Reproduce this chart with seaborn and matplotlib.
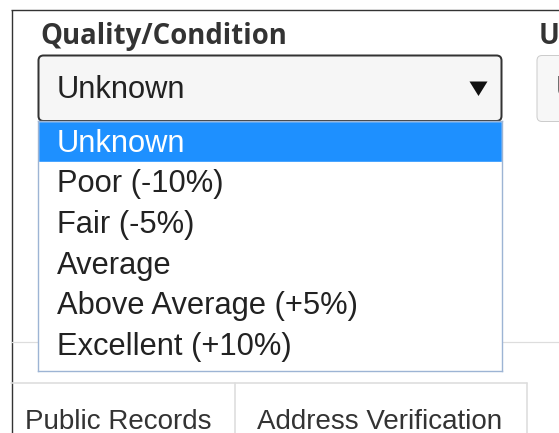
import matplotlib
matplotlib.use("Agg")
import matplotlib.pyplot as plt
from matplotlib.patches import FancyBboxPatch, Polygon
import seaborn as sns

# ---- content ----
FIELD_LABEL = "Quality/Condition"
NEXT_FIELD_LABEL = "Utility"
SELECTED = "Unknown"
NEXT_FIELD_VALUE = "Unknown"
OPTIONS = ["Unknown", "Poor (-10%)", "Fair (-5%)", "Average",
           "Above Average (+5%)", "Excellent (+10%)"]
TABS = ["Public Records", "Address Verification"]

sns.set_theme(style="white")
plt.rcParams["font.family"] = ["Liberation Sans", "DejaVu Sans"]

W, H = 559, 433
fig = plt.figure(figsize=(W / 100, H / 100), dpi=100)
fig.patch.set_facecolor("white")
ax = fig.add_axes([0, 0, 1, 1])
ax.set_xlim(0, W)
ax.set_ylim(H, 0)
ax.axis("off")

DARK = "#333333"
LIGHT = "#dddddd"
PX = 0.72  # points per pixel

# outer frame
ax.plot([11, W], [9.5, 9.5], color=DARK, lw=1.4 * PX, solid_capstyle="butt")
ax.plot([11.5, 11.5], [9.5, H], color=DARK, lw=1.4 * PX, solid_capstyle="butt")

# field labels
ax.text(40, 44, FIELD_LABEL, fontsize=19.8, fontweight="bold",
        family=["Open Sans", "DejaVu Sans"], color=DARK, va="baseline")
ax.text(538.5, 44, NEXT_FIELD_LABEL, fontsize=19.8, fontweight="bold",
        family=["Open Sans", "DejaVu Sans"], color=DARK, va="baseline")

# select box
ax.add_patch(FancyBboxPatch((38.5, 55.5), 463, 65.5,
                            boxstyle="round,pad=0,rounding_size=5",
                            fc="#f6f6f6", ec=DARK, lw=2.0 * PX))
ax.text(57, 98.3, SELECTED, fontsize=22.2, color="#222222", va="baseline")
ax.add_patch(Polygon([(469.5, 81.5), (487.5, 81.5), (478.5, 96)], closed=True,
                     fc="#111111", ec="none"))

# neighbouring select box (cut off)
ax.add_patch(FancyBboxPatch((537, 55.5), 40, 66,
                            boxstyle="round,pad=0,rounding_size=5",
                            fc="#f7f7f7", ec="#cccccc", lw=1.0 * PX))
ax.text(556, 98.3, NEXT_FIELD_VALUE, fontsize=22.2, color="#222222", va="baseline")

# separator line behind the open list
ax.plot([11, W], [342, 342], color=LIGHT, lw=1.2 * PX)

# tabs
ax.plot([11, 527], [383, 383], color=LIGHT, lw=1.6 * PX)
ax.plot([235, 235], [383, H], color=LIGHT, lw=1.6 * PX)
ax.plot([527, 527], [383, H], color=LIGHT, lw=1.6 * PX)
ax.text(25, 429, TABS[0], fontsize=20, color=DARK, va="baseline")
ax.text(257, 429, TABS[1], fontsize=20, color=DARK, va="baseline")

# ---- open dropdown list, drawn on its own categorical axes ----
L_X0, L_X1, L_Y0, L_Y1 = 38, 502, 121, 371
ROW = 40.66
lax = fig.add_axes([L_X0 / W, 1 - L_Y1 / H, (L_X1 - L_X0) / W, (L_Y1 - L_Y0) / H])
highlight = [1 if o == SELECTED else 0 for o in OPTIONS]
sns.barplot(x=highlight, y=OPTIONS, orient="h", width=1.0, color="#1e90ff",
            saturation=1, ax=lax)
lax.set_facecolor("white")
lax.set_xlim(0, 1)
lax.set_ylim(-0.5 + (L_Y1 - L_Y0) / ROW, -0.5)
lax.set_xticks([])
lax.set_yticks([])
lax.set_xlabel("")
lax.set_ylabel("")
for s in lax.spines.values():
    s.set_visible(True)
    s.set_color("#9db4d4")
    s.set_linewidth(1.4 * PX)
tx = (57 - L_X0) / (L_X1 - L_X0)
for i, o in enumerate(OPTIONS):
    lax.text(tx, i + 0.256, o, fontsize=22.2, va="baseline",
             color="white" if o == SELECTED else "#222222")

fig.savefig("out.png", dpi=100, facecolor="white")
